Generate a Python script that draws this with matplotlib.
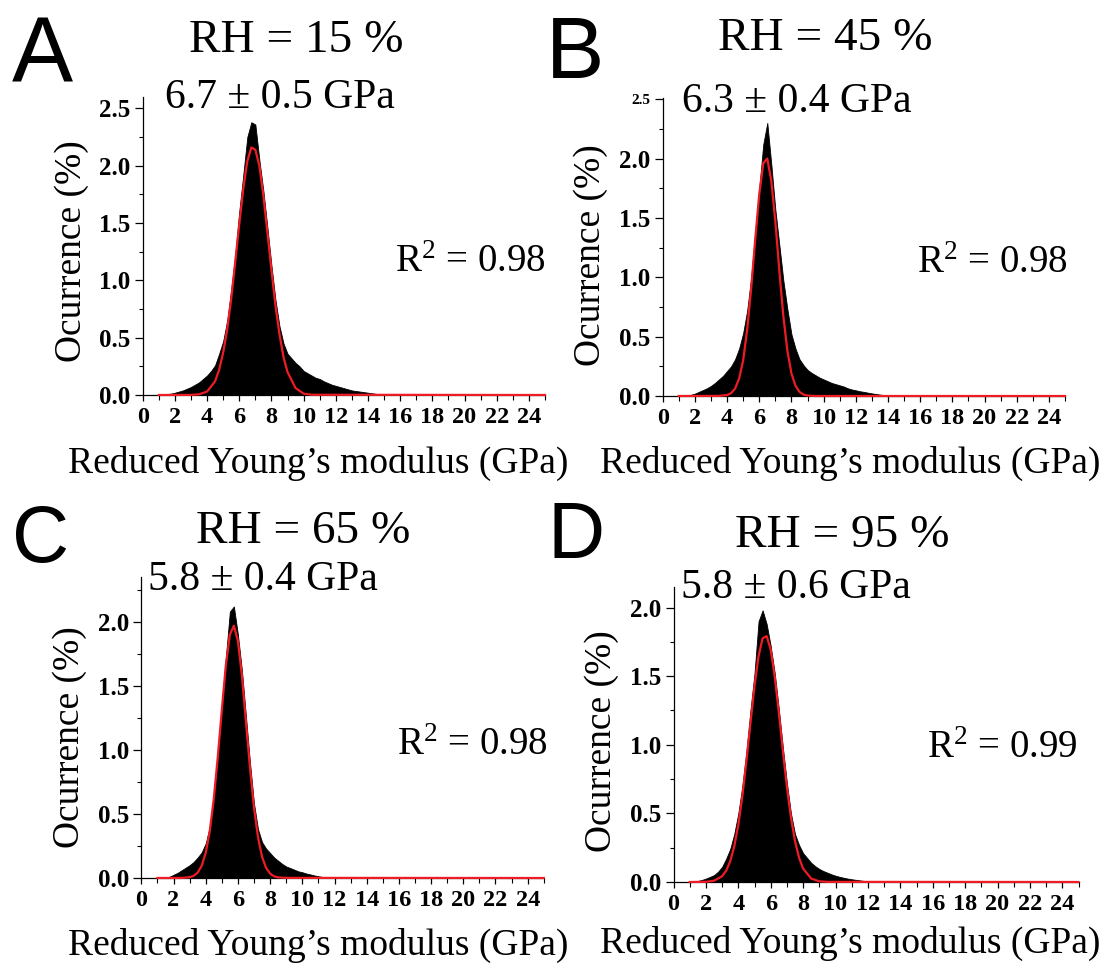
import numpy as np
import matplotlib
matplotlib.use("Agg")
import matplotlib.pyplot as plt
from matplotlib.ticker import MultipleLocator

plt.rcParams['font.family'] = ['Liberation Serif', 'DejaVu Serif']
plt.rcParams['mathtext.fontset'] = 'custom'
plt.rcParams['mathtext.rm'] = 'Liberation Serif'
plt.rcParams['mathtext.it'] = 'Liberation Serif:italic'
plt.rcParams['mathtext.default'] = 'regular'

# ---------------- data ----------------
panel_letters = ["A", "B", "C", "D"]
rh_titles = ["RH = 15 %", "RH = 45 %", "RH = 65 %", "RH = 95 %"]
modulus_labels = ["6.7 \u00b1 0.5 GPa", "6.3 \u00b1 0.4 GPa", "5.8 \u00b1 0.4 GPa", "5.8 \u00b1 0.6 GPa"]
r2_labels = ["R$^{2}$ = 0.98", "R$^{2}$ = 0.98", "R$^{2}$ = 0.98", "R$^{2}$ = 0.99"]
y_max = [2.6, 2.51, 2.35, 2.15]

hist_start = 1.0     # centre of first bin (GPa)
hist_bin = 0.25      # bin width (GPa)

hist_A = [0.003, 0.005, 0.008, 0.012, 0.02, 0.03, 0.04, 0.055,
          0.07, 0.09, 0.11, 0.14, 0.17, 0.21, 0.26, 0.36,
          0.47, 0.65, 0.92, 1.22, 1.60, 1.92, 2.25, 2.38,
          2.36, 2.05, 1.78, 1.46, 1.13, 0.83, 0.60, 0.45,
          0.36, 0.32, 0.28, 0.25, 0.21, 0.19, 0.17, 0.15,
          0.14, 0.12, 0.105, 0.09, 0.08, 0.07, 0.06, 0.05,
          0.04, 0.035, 0.03, 0.025, 0.02, 0.015, 0.01, 0.005, 0.003]
hist_B = [0.002, 0.003, 0.005, 0.01, 0.02, 0.035, 0.05, 0.065,
          0.085, 0.11, 0.14, 0.17, 0.21, 0.25, 0.31, 0.40,
          0.53, 0.72, 1.00, 1.38, 1.75, 2.12, 2.30, 1.95,
          1.57, 1.27, 0.97, 0.73, 0.52, 0.40, 0.31, 0.26,
          0.22, 0.195, 0.175, 0.155, 0.14, 0.125, 0.11, 0.10,
          0.09, 0.08, 0.065, 0.055, 0.048, 0.04, 0.035, 0.028,
          0.022, 0.017, 0.012, 0.007, 0.003, 0.0, 0.0, 0.0, 0.0]
hist_C = [0.002, 0.003, 0.005, 0.01, 0.025, 0.04, 0.06, 0.08,
          0.10, 0.125, 0.16, 0.20, 0.27, 0.40, 0.64, 0.97,
          1.34, 1.72, 2.08, 2.12, 1.90, 1.62, 1.26, 0.90,
          0.58, 0.38, 0.28, 0.23, 0.195, 0.16, 0.135, 0.11,
          0.09, 0.078, 0.065, 0.052, 0.045, 0.035, 0.028, 0.02,
          0.014, 0.008, 0.004, 0.0, 0.0, 0.0, 0.0, 0.0,
          0.0, 0.0, 0.0, 0.0, 0.0, 0.0, 0.0, 0.0, 0.0]
hist_D = [0.003, 0.005, 0.008, 0.015, 0.025, 0.037, 0.05, 0.075,
          0.11, 0.17, 0.24, 0.35, 0.50, 0.70, 0.95, 1.25,
          1.52, 1.90, 1.98, 1.88, 1.72, 1.52, 1.26, 0.98,
          0.72, 0.50, 0.35, 0.27, 0.21, 0.175, 0.14, 0.115,
          0.095, 0.08, 0.068, 0.056, 0.046, 0.038, 0.031, 0.025,
          0.02, 0.016, 0.012, 0.008, 0.005, 0.002, 0.0, 0.0,
          0.0, 0.0, 0.0, 0.0, 0.0, 0.0, 0.0, 0.0, 0.0]

fit_A_x = [1.0, 3.0, 3.5, 4.0, 4.5, 4.75, 5.0, 5.25, 5.5, 5.75, 6.0, 6.25, 6.5, 6.75,
           7.0, 7.25, 7.5, 7.75, 8.0, 8.25, 8.5, 8.75, 9.0, 9.5, 10.0, 10.5, 25.0]
fit_A_y = [0.0, 0.001, 0.006, 0.03, 0.12, 0.22, 0.37, 0.57, 0.84, 1.16, 1.49, 1.80, 2.04, 2.16,
           2.14, 2.00, 1.74, 1.42, 1.09, 0.78, 0.53, 0.33, 0.20, 0.06, 0.012, 0.002, 0.0]
fit_B_x = [1.0, 3.5, 4.0, 4.25, 4.5, 4.75, 5.0, 5.25, 5.5, 5.75, 6.0, 6.25, 6.5, 6.75,
           7.0, 7.25, 7.5, 7.75, 8.0, 8.25, 8.5, 8.75, 9.0, 9.5, 25.0]
fit_B_y = [0.0, 0.001, 0.008, 0.024, 0.063, 0.147, 0.30, 0.56, 0.91, 1.32, 1.70, 1.96, 2.00, 1.81,
           1.47, 1.05, 0.67, 0.38, 0.19, 0.087, 0.035, 0.012, 0.004, 0.0, 0.0]
fit_C_x = [1.0, 2.5, 3.0, 3.25, 3.5, 3.75, 4.0, 4.25, 4.5, 4.75, 5.0, 5.25, 5.5, 5.75,
           6.0, 6.25, 6.5, 6.75, 7.0, 7.25, 7.5, 7.75, 8.0, 8.25, 8.5, 9.0, 25.0]
fit_C_y = [0.0, 0.0005, 0.006, 0.017, 0.042, 0.095, 0.195, 0.364, 0.616, 0.945, 1.31, 1.66, 1.90, 1.97,
           1.85, 1.58, 1.22, 0.86, 0.548, 0.316, 0.166, 0.079, 0.034, 0.013, 0.005, 0.001, 0.0]
fit_D_x = [1.0, 2.0, 2.5, 3.0, 3.25, 3.5, 3.75, 4.0, 4.25, 4.5, 4.75, 5.0, 5.25, 5.5,
           5.75, 6.0, 6.25, 6.5, 6.75, 7.0, 7.25, 7.5, 7.75, 8.0, 8.5, 9.0, 9.5, 25.0]
fit_D_y = [0.0, 0.0015, 0.009, 0.042, 0.082, 0.151, 0.259, 0.416, 0.626, 0.881, 1.159, 1.428, 1.646, 1.776,
           1.792, 1.693, 1.496, 1.237, 0.957, 0.693, 0.470, 0.298, 0.177, 0.098, 0.025, 0.005, 0.001, 0.0]

hists = [hist_A, hist_B, hist_C, hist_D]
fits = [(fit_A_x, fit_A_y), (fit_B_x, fit_B_y), (fit_C_x, fit_C_y), (fit_D_x, fit_D_y)]

x_label = "Reduced Young\u2019s modulus (GPa)"
y_label = "Ocurrence (%)"

# ---------------- layout (pixel positions in a 1117x965 canvas) ----------------
W, H = 1117, 965
fig = plt.figure(figsize=(W / 100, H / 100), dpi=100)

def fx(px):
    return px / W

def fy(py):
    return 1 - py / H

# axes: left px, right px, top px, bottom px
axes_px = [(142.7, 545.0, 97, 395),
           (662.7, 1065.0, 98, 396),
           (141.3, 543.8, 577, 878),
           (673.5, 1078.5, 587, 882)]

letter_pos = [(12, 82, 66), (546, 78, 63), (12, 562, 57), (547, 558, 57)]
title_pos = [(296, 52), (825, 50), (303, 543), (842, 547)]
sub_pos = [(280, 108), (797, 112), (263, 590), (796, 598)]
r2_pos = [(546, 272), (1068, 273), (548, 755), (1078, 758)]
ylab_pos = [(72, 251), (591, 255), (70, 737), (602, 741)]
xlab_pos = [(318, 473), (850, 473), (318, 955), (850, 953)]

serif = 'Liberation Serif'

for i in range(4):
    l, r, t, b = axes_px[i]
    ax = fig.add_axes([fx(l), fy(b), (r - l) / W, (b - t) / H])
    vals = np.array(hists[i])
    centers = hist_start + hist_bin * np.arange(len(vals))
    ax.fill_between(centers, 0, vals, color='black', linewidth=0.6,
                    edgecolor='black', zorder=2)
    ax.plot(fits[i][0], fits[i][1], color='#ee1c24', lw=1.6, zorder=4, clip_on=False)

    ax.set_xlim(0, 25)
    ax.set_ylim(0, y_max[i])
    for s in ['top', 'right']:
        ax.spines[s].set_visible(False)
    for s in ['left', 'bottom']:
        ax.spines[s].set_linewidth(0.9)
        ax.spines[s].set_zorder(3)

    ax.xaxis.set_major_locator(MultipleLocator(2))
    ax.xaxis.set_minor_locator(MultipleLocator(1))
    yt = [v * 0.5 for v in range(int(y_max[i] / 0.5 + 1e-9) + 1)]
    ax.set_yticks(yt)
    ylabels = ax.set_yticklabels([f"{v:.1f}" for v in yt])
    ax.yaxis.set_minor_locator(MultipleLocator(0.25))
    ax.tick_params(axis='x', which='major', direction='out', length=4.5, width=0.9,
                   labelsize=17.5, pad=4)
    ax.tick_params(axis='x', which='minor', direction='out', length=3.5, width=0.8)
    ax.tick_params(axis='y', which='major', direction='out', length=6, width=0.9,
                   labelsize=18, pad=3)
    ax.tick_params(axis='y', which='minor', direction='out', length=3, width=0.8)
    for lab in ax.get_xticklabels() + ax.get_yticklabels():
        lab.set_fontfamily(serif)
        lab.set_fontweight('bold')
    if i == 1:
        ylabels[-1].set_fontsize(11)
    ax.patch.set_alpha(0)

    # texts
    lx, ly, ls = letter_pos[i]
    fig.text(fx(lx), fy(ly), panel_letters[i], family='Liberation Sans', fontsize=ls,
             ha='left', va='baseline')
    tx, ty = title_pos[i]
    fig.text(fx(tx), fy(ty), rh_titles[i], family=serif, fontsize=34,
             ha='center', va='baseline')
    sx, sy = sub_pos[i]
    fig.text(fx(sx), fy(sy), modulus_labels[i], family=serif, fontsize=30,
             ha='center', va='baseline')
    rx, ry = r2_pos[i]
    fig.text(fx(rx), fy(ry), r2_labels[i], family=serif, fontsize=28,
             ha='right', va='baseline')
    yx, yy = ylab_pos[i]
    fig.text(fx(yx), fy(yy), y_label, family=serif, fontsize=27, rotation=90,
             ha='center', va='center')
    xx, xy = xlab_pos[i]
    fig.text(fx(xx), fy(xy), x_label, family=serif, fontsize=27,
             ha='center', va='baseline')

fig.savefig("out.png", dpi=100, facecolor='white')
